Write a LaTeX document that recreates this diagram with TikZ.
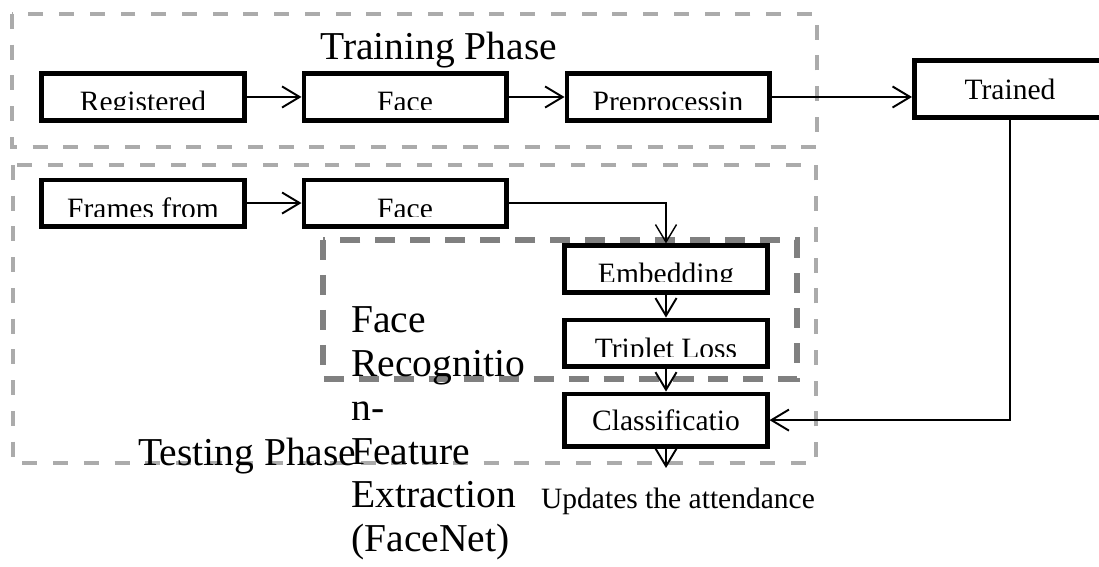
\documentclass[tikz,border=0pt]{standalone}
\usepackage{fontspec}
\setmainfont{Liberation Serif}
\usetikzlibrary{arrows.meta, positioning}
\newcommand{\boxfont}{\fontsize{16.8pt}{20pt}\selectfont}
\newcommand{\phasefont}{\fontsize{22.5pt}{25pt}\selectfont}
\tikzset{
    box/.style={rectangle, draw=black, line width=2.6pt, fill=white, inner sep=0pt,
        minimum width=4.05cm, minimum height=0.93cm, font=\boxfont},
    cutbox/.style={box, path picture={
        \clip (path picture bounding box.north west) rectangle ([yshift=-0.26cm]path picture bounding box.east);
        \node[font=\boxfont, anchor=base, inner sep=0pt]
            at ([yshift=-0.3cm]path picture bounding box.center) {#1};}},
    arrow/.style={-{Straight Barb[length=10pt, width=12pt]}, line width=1.1pt},
    thinarrow/.style={arrow, line width=0.8pt},
    phasebox/.style={draw=black!33, line width=2.3pt, dash pattern=on 8.5pt off 9pt},
    frbox/.style={draw=black!50, line width=2.9pt, dash pattern=on 11.4pt off 8.5pt},
    phaselabel/.style={font=\phasefont, inner sep=0pt},
}

\begin{document}
\begin{tikzpicture}[x=0.02cm, y=-0.02cm]
    \useasboundingbox (0,0) rectangle (1099,567);
    \clip (0,0) rectangle (1099,567);
    % group frames
    \draw[phasebox] (12,14) rectangle (817,147);
    \draw[phasebox] (13,165) rectangle (816,463);
    \draw[frbox] (323,240) rectangle (797,379);
    % training row
    \node[cutbox=Registered] (reg) at (143,97) {};
    \node[cutbox=Face, right=1.1cm of reg] (face1) {};
    \node[cutbox=Preprocessin, right=1.12cm of face1] (prep) {};
    \node[box, minimum width=3.83cm, minimum height=1.15cm] (trained) at (1010,89) {Trained};
    % testing row
    \node[cutbox=Frames from, below=1.1cm of reg] (frames) {};
    \node[cutbox=Face, right=1.1cm of frames] (face2) {};
    \node[cutbox=Embedding] (embed) at (666,269) {};
    \node[cutbox=Triplet Loss, below=0.46cm of embed] (triplet) {};
    \node[box, minimum height=1.05cm, below=0.46cm of triplet] (classify) {Classificatio};
    % labels
    \node[phaselabel, anchor=base west] (trainlbl) at (320,60) {Training Phase};
    \node[phaselabel, anchor=base west] (testlbl) at (138,465) {Testing Phase};
    \node[phaselabel, anchor=north west, align=left] (frlbl) at (351,306)
        {Face\\Recognitio\\n-\\Feature\\Extraction\\(FaceNet)};
    \node[font=\boxfont, anchor=base, inner sep=0pt] (update) at (678,508) {Updates the attendance};
    \coordinate (updtop) at (666,468);
    % connectors
    \draw[arrow] (reg) -- (face1);
    \draw[arrow] (face1) -- (prep);
    \draw[arrow] (prep.east) -- (prep.east -| trained.west);
    \draw[arrow] (frames) -- (face2);
    \draw[thinarrow] (face2.east) -| (embed.north);
    \draw[arrow] (embed) -- (triplet);
    \draw[arrow] (triplet) -- (classify);
    \draw[arrow] (classify) -- (updtop);
    \draw[arrow] (trained) |- (classify);
\end{tikzpicture}
\end{document}
